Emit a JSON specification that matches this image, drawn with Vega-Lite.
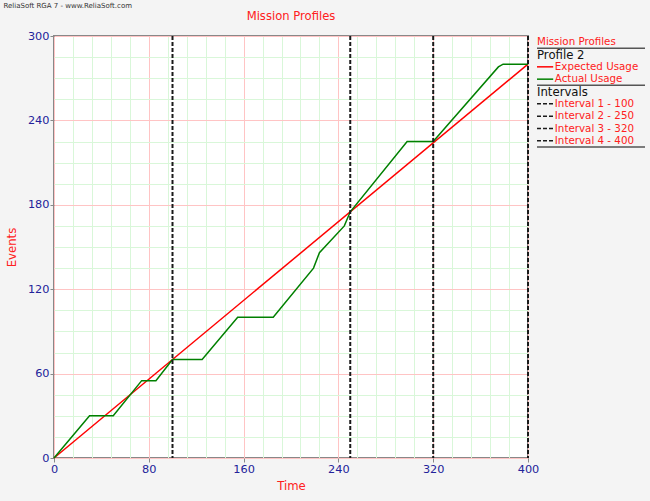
{
  "$schema": "https://vega.github.io/schema/vega-lite/v6.json",
  "background": "#f4f4f4",
  "padding": {"left": 3, "top": 2, "right": 5, "bottom": 8},
  "bounds": "flush",
  "spacing": 9,
  "title": {"text": "ReliaSoft RGA 7 - www.ReliaSoft.com", "anchor": "start", "frame": "bounds", "fontSize": 7, "fontWeight": "normal", "color": "#333333", "offset": 1, "dx": -2},
  "datasets": {
    "usage": [
      {"series": "Expected Usage", "t": 0, "events": 0},
      {"series": "Expected Usage", "t": 400, "events": 280},
      {"series": "Actual Usage", "t": 0, "events": 0},
      {"series": "Actual Usage", "t": 30, "events": 30},
      {"series": "Actual Usage", "t": 50, "events": 30},
      {"series": "Actual Usage", "t": 74, "events": 55},
      {"series": "Actual Usage", "t": 86, "events": 55},
      {"series": "Actual Usage", "t": 100, "events": 70},
      {"series": "Actual Usage", "t": 125, "events": 70},
      {"series": "Actual Usage", "t": 155, "events": 100},
      {"series": "Actual Usage", "t": 185, "events": 100},
      {"series": "Actual Usage", "t": 219, "events": 135},
      {"series": "Actual Usage", "t": 224, "events": 146},
      {"series": "Actual Usage", "t": 245, "events": 165},
      {"series": "Actual Usage", "t": 250, "events": 175},
      {"series": "Actual Usage", "t": 298, "events": 225},
      {"series": "Actual Usage", "t": 320, "events": 225},
      {"series": "Actual Usage", "t": 375, "events": 278},
      {"series": "Actual Usage", "t": 379, "events": 280},
      {"series": "Actual Usage", "t": 400, "events": 280}
    ],
    "intervals": [
      {"interval": "Interval 1 - 100", "t": 100},
      {"interval": "Interval 2 - 250", "t": 250},
      {"interval": "Interval 3 - 320", "t": 320},
      {"interval": "Interval 4 - 400", "t": 400}
    ],
    "legend": [
      {"label": "Mission Profiles", "kind": "header"},
      {"label": "Profile 2", "kind": "group"},
      {"label": "Expected Usage", "kind": "profile"},
      {"label": "Actual Usage", "kind": "profile"},
      {"label": "Intervals", "kind": "group"},
      {"label": "Interval 1 - 100", "kind": "interval"},
      {"label": "Interval 2 - 250", "kind": "interval"},
      {"label": "Interval 3 - 320", "kind": "interval"},
      {"label": "Interval 4 - 400", "kind": "interval"}
    ]
  },
  "hconcat": [
    {
      "title": {"text": "Mission Profiles", "color": "#ff2020", "fontSize": 11.6, "fontWeight": "normal", "offset": 7},
      "width": 474,
      "height": 422,
      "encoding": {
        "x": {
          "field": "t", "type": "quantitative",
          "scale": {"domain": [0, 400], "nice": false, "zero": true},
          "axis": {
            "title": "Time",
            "values": [0, 16, 32, 48, 64, 80, 96, 112, 128, 144, 160, 176, 192, 208, 224, 240, 256, 272, 288, 304, 320, 336, 352, 368, 384, 400],
            "labelExpr": "datum.value % 80 === 0 ? datum.label : ''",
            "tickOpacity": {"condition": {"test": "datum.value % 80 === 0", "value": 1}, "value": 0},
            "gridColor": {"condition": {"test": "datum.value % 80 === 0", "value": "#ffc4c4"}, "value": "#d9f7d9"}
          }
        }
      },
      "layer": [
        {
          "data": {"name": "usage"},
          "mark": {"type": "line", "strokeWidth": 1.5},
          "encoding": {
            "y": {
              "field": "events", "type": "quantitative",
              "scale": {"domain": [0, 300], "nice": false},
              "axis": {
                "title": "Events",
                "values": [0, 15, 30, 45, 60, 75, 90, 105, 120, 135, 150, 165, 180, 195, 210, 225, 240, 255, 270, 285, 300],
                "labelExpr": "datum.value % 60 === 0 ? datum.label : ''",
                "tickOpacity": {"condition": {"test": "datum.value % 60 === 0", "value": 1}, "value": 0},
                "gridColor": {"condition": {"test": "datum.value % 60 === 0", "value": "#ffc4c4"}, "value": "#d9f7d9"}
              }
            },
            "stroke": {"field": "series", "type": "nominal", "scale": {"domain": ["Expected Usage", "Actual Usage"], "range": ["#ff0000", "#008000"]}, "legend": null}
          }
        },
        {
          "data": {"name": "intervals"},
          "mark": {"type": "rule", "color": "#1a1a1a", "strokeWidth": 2, "strokeDash": [4, 2]},
          "encoding": {}
        }
      ]
    },
    {
      "width": 108,
      "height": 111,
      "view": {"stroke": null, "fill": null},
      "data": {"name": "legend"},
      "encoding": {
        "y": {"field": "label", "type": "nominal", "sort": ["Mission Profiles", "Profile 2", "Expected Usage", "Actual Usage", "Intervals", "Interval 1 - 100", "Interval 2 - 250", "Interval 3 - 320", "Interval 4 - 400"], "scale": {"type": "band", "paddingInner": 0, "paddingOuter": 0}, "axis": null}
      },
      "layer": [
        {
          "transform": [{"filter": "datum.kind === 'header'"}],
          "mark": {"type": "text", "align": "left", "baseline": "middle", "color": "#ff2020", "fontSize": 10.3},
          "encoding": {"x": {"datum": 0, "type": "quantitative", "scale": {"domain": [0, 1]}, "axis": null}, "text": {"field": "label"}}
        },
        {
          "transform": [{"filter": "datum.kind === 'group'"}],
          "mark": {"type": "text", "align": "left", "baseline": "middle", "color": "#111111", "fontSize": 11.7},
          "encoding": {"x": {"datum": 0, "type": "quantitative", "scale": {"domain": [0, 1]}, "axis": null}, "text": {"field": "label"}}
        },
        {
          "transform": [{"filter": "datum.kind === 'profile' || datum.kind === 'interval'"}],
          "mark": {"type": "text", "align": "left", "baseline": "middle", "color": "#ff2020", "fontSize": 10.3},
          "encoding": {"x": {"datum": 0.165, "type": "quantitative", "scale": {"domain": [0, 1]}, "axis": null}, "text": {"field": "label"}}
        },
        {
          "transform": [{"filter": "datum.label === 'Expected Usage'"}],
          "mark": {"type": "rule", "color": "#ff0000", "strokeWidth": 1.5},
          "encoding": {"x": {"datum": 0, "type": "quantitative", "scale": {"domain": [0, 1]}, "axis": null}, "x2": {"datum": 0.15}}
        },
        {
          "transform": [{"filter": "datum.label === 'Actual Usage'"}],
          "mark": {"type": "rule", "color": "#008000", "strokeWidth": 1.5},
          "encoding": {"x": {"datum": 0, "type": "quantitative", "scale": {"domain": [0, 1]}, "axis": null}, "x2": {"datum": 0.15}}
        },
        {
          "transform": [{"filter": "datum.kind === 'interval'"}],
          "mark": {"type": "rule", "color": "#1a1a1a", "strokeWidth": 1.5, "strokeDash": [4, 2]},
          "encoding": {"x": {"datum": 0, "type": "quantitative", "scale": {"domain": [0, 1]}, "axis": null}, "x2": {"datum": 0.15}}
        },
        {
          "transform": [{"filter": "datum.label === 'Mission Profiles' || datum.label === 'Actual Usage' || datum.label === 'Interval 4 - 400'"}],
          "mark": {"type": "rule", "color": "#555555", "strokeWidth": 1.5},
          "encoding": {
            "y": {"field": "label", "type": "nominal", "bandPosition": 1, "sort": ["Mission Profiles", "Profile 2", "Expected Usage", "Actual Usage", "Intervals", "Interval 1 - 100", "Interval 2 - 250", "Interval 3 - 320", "Interval 4 - 400"], "axis": null},
            "x": {"datum": 0, "type": "quantitative", "scale": {"domain": [0, 1]}, "axis": null},
            "x2": {"datum": 1}
          }
        }
      ]
    }
  ],
  "resolve": {"scale": {"y": "independent", "x": "independent"}},
  "config": {
    "font": "DejaVu Sans",
    "view": {"fill": "white", "stroke": "#888888", "strokeWidth": 2},
    "axis": {
      "domain": false,
      "labelColor": "#22229a",
      "labelFontSize": 11.3,
      "labelOverlap": false,
      "labelFlush": false,
      "labelPadding": 1,
      "tickColor": "#888888",
      "tickWidth": 1,
      "tickSize": 4,
      "gridOpacity": 1,
      "gridWidth": 1,
      "titleColor": "#ff2020",
      "titleFontSize": 11.7,
      "titleFontWeight": "normal"
    },
    "axisX": {"titlePadding": 6},
    "axisY": {"titlePadding": 10}
  }
}
